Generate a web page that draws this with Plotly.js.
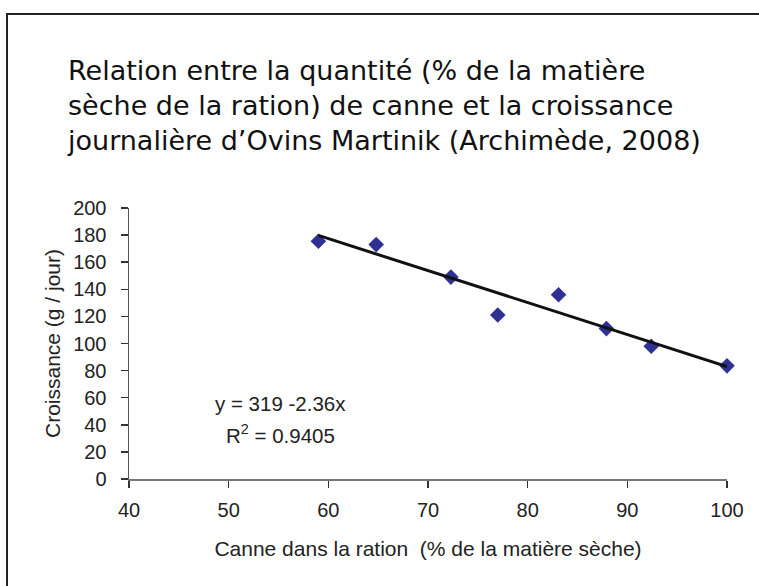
<!DOCTYPE html>
<html>
<head>
<meta charset="utf-8">
<script src="https://cdn.plot.ly/plotly-3.0.1.min.js"></script>
<style>html,body{margin:0;padding:0;background:#fff;}#chart{width:759px;height:586px;}</style>
</head>
<body>
<div id="chart"></div>
<script>
// Data
const canne = [59, 64.8, 72.3, 77, 83.1, 87.9, 92.4, 100];
const croissance = [175.5, 173, 149, 121, 136, 111, 98, 83.5];
// Trend line as printed on the chart: y = 319 - 2.36x
const trendIntercept = 319;
const trendSlope = -2.36;
const trendX = [59, 100];
const trendY = trendX.map(v => trendIntercept + trendSlope * v);
const xTicks = [40, 50, 60, 70, 80, 90, 100];
const yTicks = [0, 20, 40, 60, 80, 100, 120, 140, 160, 180, 200];

const titleLines = [
  "Relation entre la quantité (% de la matière",
  "sèche de la ration) de canne et la croissance",
  "journalière d’Ovins Martinik (Archimède, 2008)"
];

const tickFont = {family: "Liberation Sans, Arial, sans-serif", size: 20, color: "#222"};
const titleFontAx = {family: "Liberation Sans, Arial, sans-serif", size: 21, color: "#222"};
const eqFont = {family: "Liberation Sans, Arial, sans-serif", size: 20.5, color: "#222"};

const traces = [
  {
    x: canne, y: croissance, type: "scatter", mode: "markers",
    marker: {symbol: "diamond", size: 12, color: "#2E3192"},
    cliponaxis: false, showlegend: false
  },
  {
    x: trendX, y: trendY, type: "scatter", mode: "lines",
    line: {color: "#111", width: 3},
    cliponaxis: false, showlegend: false
  }
];

const layout = {
  width: 759, height: 586,
  margin: {l: 129, r: 32, t: 208, b: 107},
  paper_bgcolor: "#fff", plot_bgcolor: "#fff",
  font: tickFont,
  title: {
    text: titleLines.join("<br>"),
    font: {family: "DejaVu Sans, sans-serif", size: 27, color: "#111"},
    x: 68/759, xref: "container", xanchor: "left",
    y: 1 - 80/586, yref: "container", yanchor: "top",
    align: "left"
  },
  xaxis: {
    range: [40, 100], tickvals: xTicks, ticktext: xTicks.map(String),
    showline: true, linecolor: "#777", linewidth: 1.5,
    ticks: "outside", ticklen: 7, tickcolor: "#333", tickwidth: 1.5,
    showgrid: false, zeroline: false, ticklabelstandoff: 5,
    tickfont: tickFont,
    title: {text: "Canne dans la ration  (% de la matière sèche)", font: titleFontAx, standoff: 22}
  },
  yaxis: {
    range: [0, 200], tickvals: yTicks, ticktext: yTicks.map(String),
    showline: true, linecolor: "#555", linewidth: 1.5,
    ticks: "outside", ticklen: 7, tickcolor: "#333", tickwidth: 1.5,
    showgrid: false, zeroline: false, ticklabelstandoff: 10,
    tickfont: tickFont,
    title: {text: "Croissance (g / jour)", font: titleFontAx, standoff: 7}
  },
  annotations: [
    {x: 55.2, y: 56, xref: "x", yref: "y", text: "y = 319 -2.36x", showarrow: false, font: eqFont},
    {x: 55.2, y: 33, xref: "x", yref: "y", text: "R<sup>2</sup> = 0.9405", showarrow: false, font: eqFont}
  ],
  shapes: [
    {type: "rect", xref: "paper", yref: "paper",
     x0: (7-129)/598, x1: (775-129)/598, y0: (479-600)/271, y1: (479-14)/271,
     line: {color: "#222", width: 2}, fillcolor: "rgba(0,0,0,0)", layer: "below"}
  ]
};

Plotly.newPlot("chart", traces, layout, {displayModeBar: false, staticPlot: true});
</script>
</body>
</html>
